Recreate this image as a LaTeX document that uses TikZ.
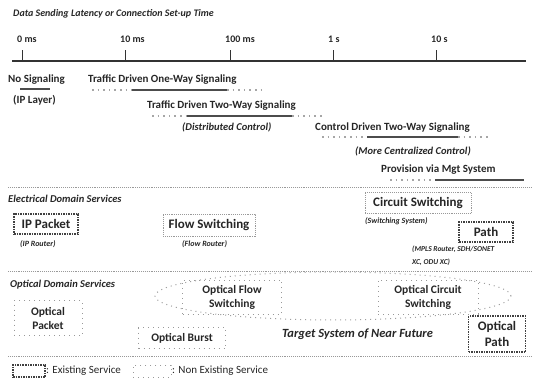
\documentclass[tikz,border=0pt]{standalone}
\usepackage{fontspec}
\setmainfont{Carlito}
\usetikzlibrary{positioning, shapes.geometric}

\begin{document}
\begin{tikzpicture}[x=1pt, y=-1pt,
    txt/.style={font=\bfseries\fontsize{11}{13}\selectfont, anchor=west,
                inner sep=0pt, text=black!85},
    sub/.style={font=\bfseries\itshape\fontsize{10.5}{12}\selectfont,
                anchor=west, inner sep=0pt, text=black!85},
    tiny/.style={font=\bfseries\itshape\fontsize{8}{9}\selectfont,
                 anchor=west, inner sep=0pt, text=black!85},
    head/.style={font=\bfseries\itshape\fontsize{10.5}{12}\selectfont,
                 anchor=west, inner sep=0pt, text=black!85},
    sep/.style={gray!80, densely dotted, line width=0.9pt},
    axis/.style={black!80, line width=1.1pt},
    fixbar/.style={gray!60!black, line width=1.8pt},
    planbar/.style={gray!70, loosely dotted, line width=1.6pt},
    existbox/.style={draw=black!75, line width=1.5pt, densely dotted,
                     align=center, inner sep=0pt, text=black!85},
    lightbox/.style={draw=gray!80, line width=0.9pt, densely dotted,
                     align=center, inner sep=0pt, text=black!85},
    newbox/.style={draw=gray!80, line width=1pt, loosely dotted,
                   align=center, inner sep=0pt, text=black!85},
    big/.style={font=\bfseries\fontsize{13}{14}\selectfont},
    mid/.style={font=\bfseries\fontsize{11.5}{14}\selectfont}
  ]
  \useasboundingbox (0,0) rectangle (536,380);

  % time axis
  \node[head, font=\bfseries\itshape\fontsize{10}{11}\selectfont] (title) at (13,14)
        {Data Sending Latency or Connection Set-up Time};
  \draw[axis] (12,61) -- (526,61);
  \foreach \x/\t in {22/0 ms, 125/10 ms, 230/100 ms, 333/1 s, 436/10 s} {
    \draw[axis, line width=1pt] (\x,50) -- (\x,61);
    \node[txt, font=\bfseries\fontsize{10}{11}\selectfont] (t\x) at (\x-5,39) {\t};
  }

  % signaling kinds
  \node[txt] (nosig) at (8,80) {No Signaling};
  \draw[fixbar] (20,89) -- (50,89);
  \node[txt] (iplayer) at (13,100) {(IP Layer)};

  \node[txt] (oneway) at (88,80) {Traffic Driven One-Way Signaling};
  \draw[planbar] (92,90) -- (132,90);
  \draw[fixbar] (132,90) -- (227,90);
  \draw[planbar] (227,90) -- (263,90);

  \node[txt] (twoway) at (147,106) {Traffic Driven Two-Way Signaling};
  \draw[planbar] (152,116) -- (187,116);
  \draw[fixbar] (187,116) -- (292,116);
  \draw[planbar] (292,116) -- (322,116);
  \node[sub] (distr) at (182,127) {(Distributed Control)};

  \node[txt] (ctrl) at (315,128) {Control Driven Two-Way Signaling};
  \draw[planbar] (322,137) -- (367,137);
  \draw[fixbar] (367,137) -- (458,137);
  \draw[planbar] (458,137) -- (490,137);
  \node[sub] (central) at (355,151) {(More Centralized Control)};

  \node[txt] (mgt) at (381,170) {Provision via Mgt System};
  \draw[planbar] (390,180) -- (435,180);
  \draw[fixbar] (435,180) -- (524,180);

  \draw[sep] (8,187) -- (532,187);

  % electrical domain
  \node[head] (elec) at (8,199) {Electrical Domain Services};
  \node[existbox, big, minimum width=64, minimum height=20] (ippkt) at (46,224) {IP Packet};
  \node[tiny] (iprouter) at (20,244) {(IP Router)};
  \node[lightbox, big, minimum width=92, minimum height=22] (flow) at (209,225) {Flow Switching};
  \node[tiny] (flowrouter) at (182,244) {(Flow Router)};
  \node[lightbox, big, minimum width=106, minimum height=21] (circ) at (418,203) {Circuit Switching};
  \node[tiny] (swsys) at (365,221) {(Switching System)};
  \node[existbox, big, minimum width=54, minimum height=20] (path) at (486,232) {Path};
  \node[tiny, align=left, anchor=north west,
        font=\bfseries\itshape\fontsize{7.5}{13}\selectfont] (mpls) at (412,246)
        {(MPLS Router, SDH/SONET\\XC, ODU XC)};

  \draw[sep] (8,271) -- (532,271);

  % optical domain
  \node[head] (opt) at (10,285) {Optical Domain Services};
  \node[draw=gray!75, line width=1pt, loosely dotted, ellipse,
        minimum width=356, minimum height=48] (target) at (333,296) {};
  \node[newbox, mid, minimum width=99, minimum height=34] (oflow) at (232,297) {Optical Flow\\Switching};
  \node[newbox, mid, minimum width=100, minimum height=34] (ocirc) at (428,297) {Optical Circuit\\Switching};
  \node[newbox, mid, minimum width=68, minimum height=35] (opkt) at (48,318) {Optical\\Packet};
  \node[newbox, mid, minimum width=87, minimum height=21] (oburst) at (182,338) {Optical Burst};
  \node[sub, font=\bfseries\itshape\fontsize{12.5}{14}\selectfont] (near) at (282,334) {Target System of Near Future};
  \node[existbox, font=\bfseries\fontsize{13}{16}\selectfont,
        minimum width=57, minimum height=36] (opath) at (497,334) {Optical\\Path};

  \draw[sep] (8,356) -- (532,356);

  % legend
  \node[existbox, line width=1.2pt, minimum width=32, minimum height=12] (keyold) at (29,371) {};
  \node[txt, font=\fontsize{11}{12}\selectfont] (keyoldt) at (46,371) {: Existing Service};
  \node[newbox, minimum width=38, minimum height=12] (keynew) at (152,371) {};
  \node[txt, font=\fontsize{11}{12}\selectfont] (keynewt) at (172,371) {: Non Existing Service};
\end{tikzpicture}
\end{document}
